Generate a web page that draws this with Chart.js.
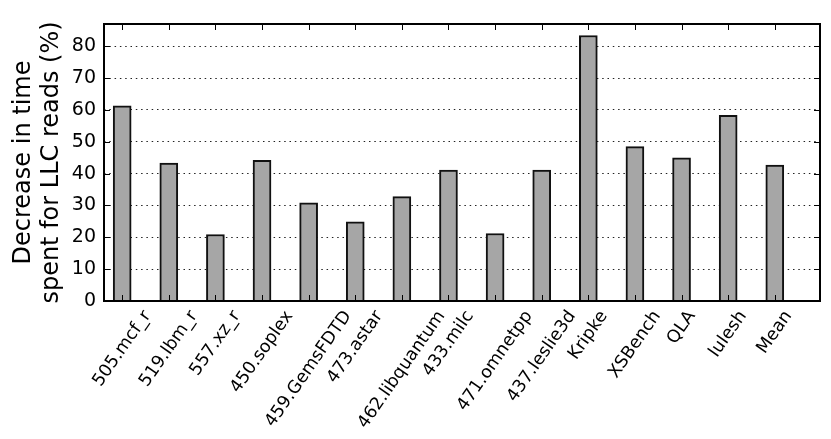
<!DOCTYPE html>
<html>
<head>
<meta charset="utf-8">
<script src="https://cdn.jsdelivr.net/npm/chart.js@4/dist/chart.umd.min.js"></script>
<style>
  html, body { margin: 0; padding: 0; background: #fff; }
  #wrap { width: 831px; height: 439px; position: relative; }
</style>
</head>
<body>
<div id="wrap"><canvas id="c" width="831" height="439"></canvas></div>
<script>
// ---- data ----
const categories = [
  '505.mcf_r', '519.lbm_r', '557.xz_r', '450.soplex', '459.GemsFDTD',
  '473.astar', '462.libquantum', '433.milc', '471.omnetpp', '437.leslie3d',
  'Kripke', 'XSBench', 'QLA', 'lulesh', 'Mean'
];
const decreasePct = [61.3, 43.3, 20.9, 44.2, 30.8, 24.9, 32.8, 41.1, 21.2, 41.1, 83.4, 48.5, 45.0, 58.3, 42.7];
const yTickValues = [0, 10, 20, 30, 40, 50, 60, 70, 80];
const yTitleLines = ['Decrease in time', 'spent for LLC reads (%)'];

const FONT = "'DejaVu Sans', sans-serif";
const X_LABEL_SIZE = 17.5;
const X_LABEL_ROT = 55 * Math.PI / 180;

const frameAndLabels = {
  id: 'frameAndLabels',
  afterDraw(chart) {
    const { ctx, chartArea: a, scales: { x, y } } = chart;
    ctx.save();
    // inward tick marks on all four sides
    ctx.strokeStyle = '#000';
    ctx.lineWidth = 1;
    const tl = 6;
    ctx.beginPath();
    x.ticks.forEach(t => {
      const px = Math.round(x.getPixelForValue(t.value)) + 0.5;
      ctx.moveTo(px, a.top); ctx.lineTo(px, a.top + tl);
      ctx.moveTo(px, a.bottom); ctx.lineTo(px, a.bottom - tl);
    });
    y.ticks.forEach(t => {
      const py = Math.round(y.getPixelForValue(t.value)) + 0.5;
      ctx.moveTo(a.left, py); ctx.lineTo(a.left + tl, py);
      ctx.moveTo(a.right, py); ctx.lineTo(a.right - tl, py);
    });
    ctx.stroke();
    // frame
    ctx.lineWidth = 2;
    ctx.strokeRect(a.left, a.top, a.right - a.left, a.bottom - a.top);
    // rotated x labels, bounding box centred on the tick
    ctx.font = X_LABEL_SIZE + 'px ' + FONT;
    ctx.fillStyle = '#000';
    ctx.textAlign = 'center';
    ctx.textBaseline = 'middle';
    const c = Math.cos(X_LABEL_ROT), s = Math.sin(X_LABEL_ROT);
    const h = X_LABEL_SIZE * 1.17;
    x.ticks.forEach((t) => {
      const label = categories[t.value];
      const w = ctx.measureText(label).width;
      const H = w * s + h * c;
      const cx = x.getPixelForValue(t.value);
      const cy = a.bottom + 6 + H / 2;
      ctx.save();
      ctx.translate(cx, cy);
      ctx.rotate(-X_LABEL_ROT);
      ctx.fillText(label, 0, 0);
      ctx.restore();
    });
    ctx.restore();
  }
};

new Chart(document.getElementById('c'), {
  type: 'bar',
  data: {
    datasets: [{
      data: decreasePct.map((v, i) => ({ x: i, y: v })),
      backgroundColor: '#a6a6a6',
      borderColor: '#111',
      borderWidth: 2,
      borderSkipped: 'bottom',
      barThickness: 18
    }]
  },
  options: {
    responsive: false,
    animation: false,
    devicePixelRatio: 1,
    layout: { padding: { top: 24, right: 11, left: 0, bottom: 0 } },
    plugins: { legend: { display: false }, tooltip: { enabled: false } },
    scales: {
      x: {
        type: 'linear',
        offset: false,
        min: -0.39,
        max: 14.97,
        afterBuildTicks: (scale) => { scale.ticks = categories.map((_, i) => ({ value: i })); },
        afterFit: (scale) => { scale.height = 138; },
        ticks: { display: false },
        grid: { display: false, offset: false },
        border: { display: false }
      },
      y: {
        min: 0,
        max: 87,
        z: 1,
        afterBuildTicks: (scale) => { scale.ticks = yTickValues.map(v => ({ value: v })); },
        afterFit: (scale) => { scale.width = 104; },
        ticks: {
          stepSize: 10,
          includeBounds: false,
          padding: 8,
          color: '#000',
          font: { family: FONT, size: 19 }
        },
        grid: {
          drawTicks: false,
          color: (ctx) => ctx.tick && ctx.tick.value === 0 ? 'rgba(0,0,0,0)' : '#222',
          lineWidth: 1
        },
        border: { display: false, dash: [1.5, 3.8] },
        title: {
          display: true,
          text: yTitleLines,
          color: '#000',
          font: { family: FONT, size: 24, lineHeight: 1.2 },
          padding: { top: 9, bottom: 0 }
        }
      }
    }
  },
  plugins: [frameAndLabels]
});
</script>
</body>
</html>
